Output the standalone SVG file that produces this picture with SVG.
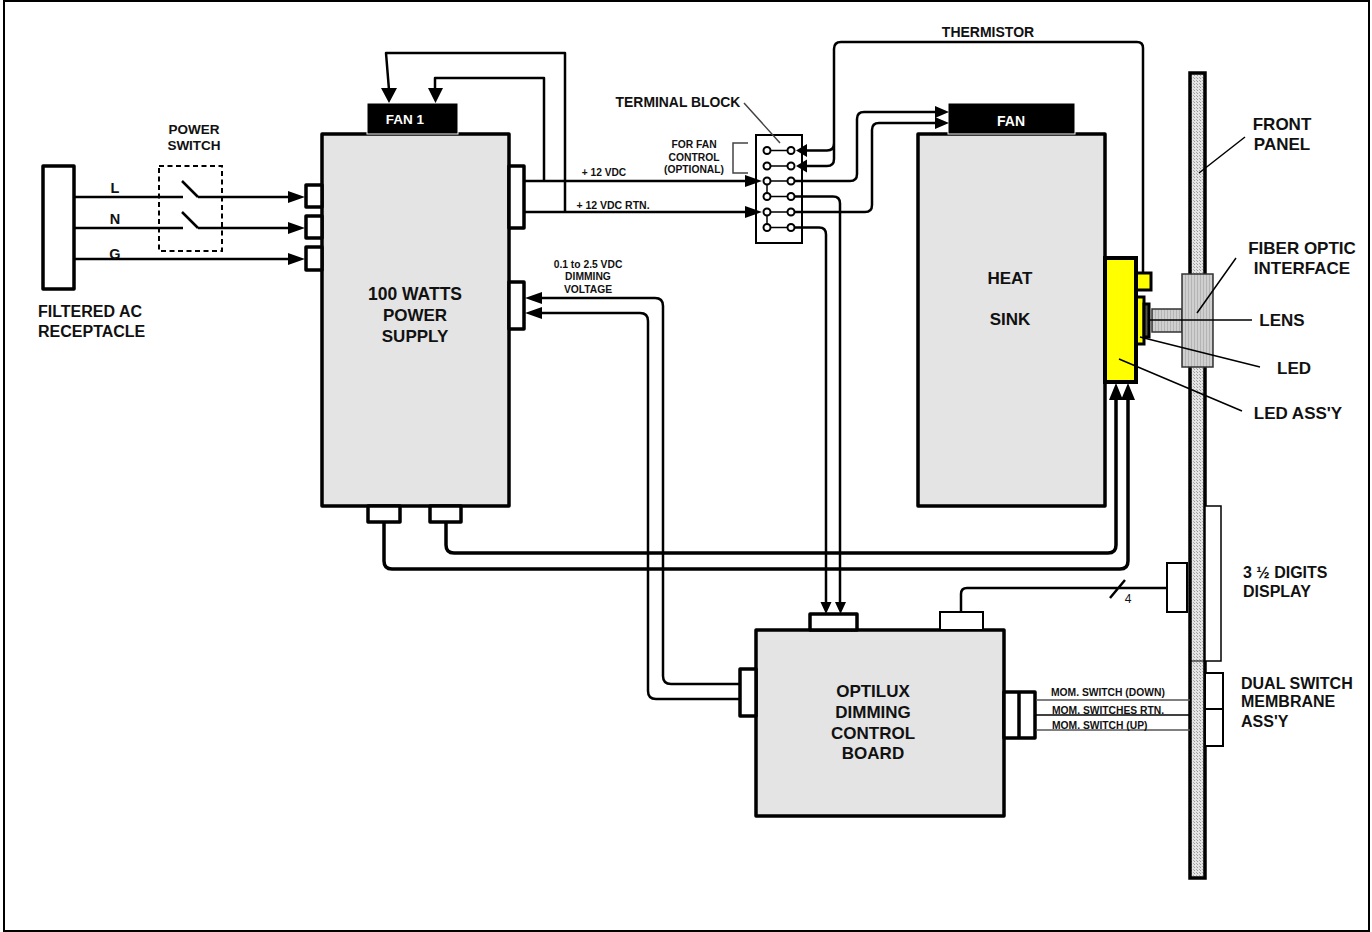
<svg xmlns="http://www.w3.org/2000/svg" width="1372" height="932" viewBox="0 0 1372 932">
<style>
text{font-family:"Liberation Sans",Arial,sans-serif;font-weight:bold;fill:#111;text-anchor:middle}
.s{text-anchor:start}
.box{fill:#e4e4e4;stroke:#000;stroke-width:3.5;stroke-linejoin:round}
.cn{fill:#fff;stroke:#000;stroke-width:3.5;stroke-linejoin:round}
.w{fill:none;stroke:#000;stroke-width:2.5;stroke-linejoin:round}
.w3{fill:none;stroke:#000;stroke-width:3.5}
.term{fill:#fff;stroke:#000;stroke-width:2}
.a{fill:#000}
</style>
<defs>
<pattern id="dith" width="3" height="3" patternUnits="userSpaceOnUse"><rect width="3" height="3" fill="#e4e4e4"/><rect width="1" height="1" fill="#999"/><rect x="2" y="2" width="1" height="1" fill="#aaa"/></pattern>
<pattern id="vs" width="3" height="4" patternUnits="userSpaceOnUse"><rect width="3" height="4" fill="#cfcfcf"/><rect width="1" height="4" fill="#b4b4b4"/></pattern>
</defs>
<rect x="4" y="1" width="1365" height="930" fill="#fff" stroke="#000" stroke-width="2"/>

<g id="front-panel"><rect x="1190" y="73" width="15" height="805" fill="url(#dith)" stroke="#000" stroke-width="3.5"/><path d="M1190 661H1205" stroke="#000" stroke-width="1"/></g>
<g id="display"><rect x="1205" y="506" width="16" height="155" fill="#fff" stroke="#000" stroke-width="1.5"/><rect x="1167" y="563" width="20" height="49" fill="#fff" stroke="#000" stroke-width="2"/></g>
<g id="switch-membrane"><rect x="1205" y="673" width="18" height="73" fill="#fff" stroke="#000" stroke-width="2"/><path d="M1205 709H1223" stroke="#000" stroke-width="2"/></g>

<g id="receptacle"><rect class="cn" x="43" y="166" width="31" height="123"/></g>
<g id="power-switch"><rect x="159" y="166" width="63" height="85" fill="none" stroke="#000" stroke-width="2" stroke-dasharray="5 3.5"/></g>

<g id="power-supply">
<rect class="box" x="322" y="134" width="187" height="372"/>
<rect class="cn" x="306" y="185" width="16" height="22"/><rect class="cn" x="306" y="216" width="16" height="22"/><rect class="cn" x="306" y="247" width="16" height="23"/>
<rect class="cn" x="509" y="166" width="15" height="62"/><rect class="cn" x="509" y="282" width="15" height="47"/>
<rect class="cn" x="368" y="506" width="32" height="16"/><rect class="cn" x="430" y="506" width="31" height="16"/>
<text x="415" y="299.700" font-size="17.500">100 WATTS</text><text x="415" y="320.700" font-size="17">POWER</text><text x="415" y="341.700" font-size="17">SUPPLY</text>
</g>
<g id="fan1"><rect x="367" y="103" width="91" height="31" fill="#000" stroke="#fff" stroke-width="1"/><text x="405" y="124" font-size="13.500" style="fill:#fff">FAN 1</text></g>

<g id="heat-sink">
<rect class="box" x="918" y="134" width="187" height="372"/>
<text x="1010" y="284" font-size="17">HEAT</text><text x="1010" y="325" font-size="17">SINK</text>
</g>
<g id="fan2"><rect x="948" y="103" width="127" height="31" fill="#000" stroke="#fff" stroke-width="1"/><text x="1011" y="126" font-size="14" style="fill:#fff">FAN</text></g>

<g id="led-assy">
<rect x="1136" y="273" width="15" height="17" fill="#ff0" stroke="#000" stroke-width="3"/>
<rect x="1136" y="297" width="8" height="47" fill="#ff0" stroke="#000" stroke-width="3"/>
<rect x="1144" y="304" width="5" height="33" fill="#554" stroke="#000" stroke-width="3"/>
<rect x="1105" y="258" width="31" height="124" fill="#ff0" stroke="#000" stroke-width="4"/>
</g>
<g id="fiber"><rect x="1152" y="309" width="30" height="23" fill="url(#vs)" stroke="#333" stroke-width="1.5"/><rect x="1182" y="274" width="31" height="93" fill="url(#vs)" stroke="#333" stroke-width="1.5"/></g>

<g id="control-board">
<rect class="box" x="756" y="630" width="248" height="186"/>
<rect class="cn" x="810" y="614" width="47" height="16"/>
<rect x="940" y="612" width="43" height="18" fill="#fff" stroke="#000" stroke-width="2"/>
<rect class="cn" x="740" y="669" width="16" height="47"/>
<rect class="cn" x="1004" y="692" width="31" height="46"/><path class="w3" d="M1019 692V738"/>
<text x="873" y="697" font-size="17">OPTILUX</text><text x="873" y="718" font-size="17">DIMMING</text><text x="873" y="739" font-size="17">CONTROL</text><text x="873" y="759" font-size="17">BOARD</text>
</g>

<g id="terminal-block">
<rect x="756" y="135" width="46" height="108" fill="#fff" stroke="#000" stroke-width="2"/>
<path d="M767 150.500H791M767 166H791M767 181H791M767 196.500H791M767 212H791M767 227.500H791M767 181V196.500M767 212V227.500" stroke="#000" stroke-width="1.500"/>
<g class="term"><circle cx="767" cy="150.500" r="3.500"/><circle cx="791" cy="150.500" r="3.500"/><circle cx="767" cy="166" r="3.500"/><circle cx="791" cy="166" r="3.500"/><circle cx="767" cy="181" r="3.500"/><circle cx="791" cy="181" r="3.500"/><circle cx="767" cy="196.500" r="3.500"/><circle cx="791" cy="196.500" r="3.500"/><circle cx="767" cy="212" r="3.500"/><circle cx="791" cy="212" r="3.500"/><circle cx="767" cy="227.500" r="3.500"/><circle cx="791" cy="227.500" r="3.500"/></g>
</g>

<g id="connectors">
<path class="w" d="M75 197H183M198 197H290M182 181L198 197M75 228H183M198 228H290M182 212L198 228M75 259H290"/>
<path class="w" d="M524 181H746M524 212H746M544 181V78H435V90M565 212V53H386L389 90"/>
<path class="w" d="M1143 273V48Q1143 42 1137 42H841Q834 42 834 49V143Q834 150.500 827 150.500H806M834 140V159Q834 166 827 166H806"/>
<path class="w" d="M795 181H850Q857 181 857 174V119Q857 112 864 112H936M795 212H865Q872 212 872 205V130Q872 123 879 123H936"/>
<path class="w" d="M795 196.500H833Q840 196.500 840 203.500V604M795 227.500H819Q826 227.500 826 234.500V604"/>
<path class="w" d="M540 298H655Q663 298 663 306V676Q663 684 671 684H740M540 313H640Q648 313 648 321V691Q648 699 656 699H740" stroke-width="2"/>
<path class="w3" d="M446 522V545Q446 553 454 553H1108Q1116 553 1116 545V398M384 522V561Q384 569 392 569H1120Q1128 569 1128 561V398"/>
<path class="w" d="M961 612V594Q961 588 967 588H1167M1110 598L1125 580"/>
<path d="M1036 700H1190M1036 730H1190" stroke="#555" stroke-width="1.500"/><path d="M1036 715H1190" stroke="#000" stroke-width="1.500"/>
<g class="a">
<path d="M288 191L305 197L288 203ZM288 222L305 228L288 234ZM288 253L305 259L288 265Z"/>
<path d="M745 175L762 181L745 187ZM745 206L762 212L745 218Z"/>
<path d="M381 88H397L389 103ZM428 88H443L435.500 103Z"/>
<path d="M935 106L949 112L935 118ZM935 117L949 123L935 129Z"/>
<path d="M807 144L796 150.500L807 157ZM807 159.500L796 166L807 172.500Z"/>
<path d="M820.500 602H831.500L826 614ZM835 602H846L840.500 614Z"/>
<path d="M542 292L525 298L542 304ZM542 307L525 313L542 319Z"/>
<path d="M1109 400H1123L1116 383ZM1121 400H1135L1128 383Z"/>
</g>
</g>

<g id="leaders">
<path d="M744 103L780 143M748 143H733V173H748" stroke="#444" stroke-width="1.500" fill="none"/>
<path d="M1199 173L1245 137M1197 313L1236 258M1150 320H1252M1140 337L1260 367M1119 359L1242 411" fill="none" stroke="#000" stroke-width="1.500"/>
</g>

<g id="labels" transform="translate(0 0.700)">
<text x="194" y="133" font-size="13.500">POWER</text><text x="194" y="149" font-size="13.500">SWITCH</text>
<text x="115" y="192" font-size="14.500">L</text><text x="115" y="223" font-size="14.500">N</text><text x="115" y="258" font-size="14.500">G</text>
<text class="s" x="38" y="316" font-size="16">FILTERED AC</text><text class="s" x="38" y="336" font-size="16">RECEPTACLE</text>
<text x="678" y="106" font-size="13.900">TERMINAL BLOCK</text>
<text x="694" y="147" font-size="10.300">FOR FAN</text><text x="694" y="160" font-size="10.300">CONTROL</text><text x="694" y="172" font-size="10.300">(OPTIONAL)</text>
<text x="604" y="175" font-size="10.200">+ 12 VDC</text><text x="613" y="208" font-size="10.500">+ 12 VDC RTN.</text>
<text x="588" y="267" font-size="10.300">0.1 to 2.5 VDC</text><text x="588" y="279" font-size="10.300">DIMMING</text><text x="588" y="292" font-size="10.300">VOLTAGE</text>
<text x="988" y="36" font-size="14">THERMISTOR</text>
<text x="1282" y="129" font-size="17">FRONT</text><text x="1282" y="149" font-size="17">PANEL</text>
<text x="1302" y="253" font-size="17">FIBER OPTIC</text><text x="1302" y="273" font-size="17">INTERFACE</text>
<text x="1282" y="325" font-size="17">LENS</text><text x="1294" y="373" font-size="17">LED</text><text x="1298" y="418" font-size="17">LED ASS'Y</text>
<text class="s" x="1243" y="577" font-size="16">3 ½ DIGITS</text><text class="s" x="1243" y="596" font-size="16">DISPLAY</text>
<text class="s" x="1241" y="688" font-size="16">DUAL SWITCH</text><text class="s" x="1241" y="706" font-size="16">MEMBRANE</text><text class="s" x="1241" y="726" font-size="16">ASS'Y</text>
<text class="s" x="1051" y="695" font-size="10.300">MOM. SWITCH (DOWN)</text><text class="s" x="1052" y="713" font-size="10.300">MOM. SWITCHES RTN.</text><text class="s" x="1052" y="728" font-size="10.300">MOM. SWITCH (UP)</text>
<text x="1128" y="602" font-size="12" style="font-weight:normal">4</text>
</g>
</svg>
